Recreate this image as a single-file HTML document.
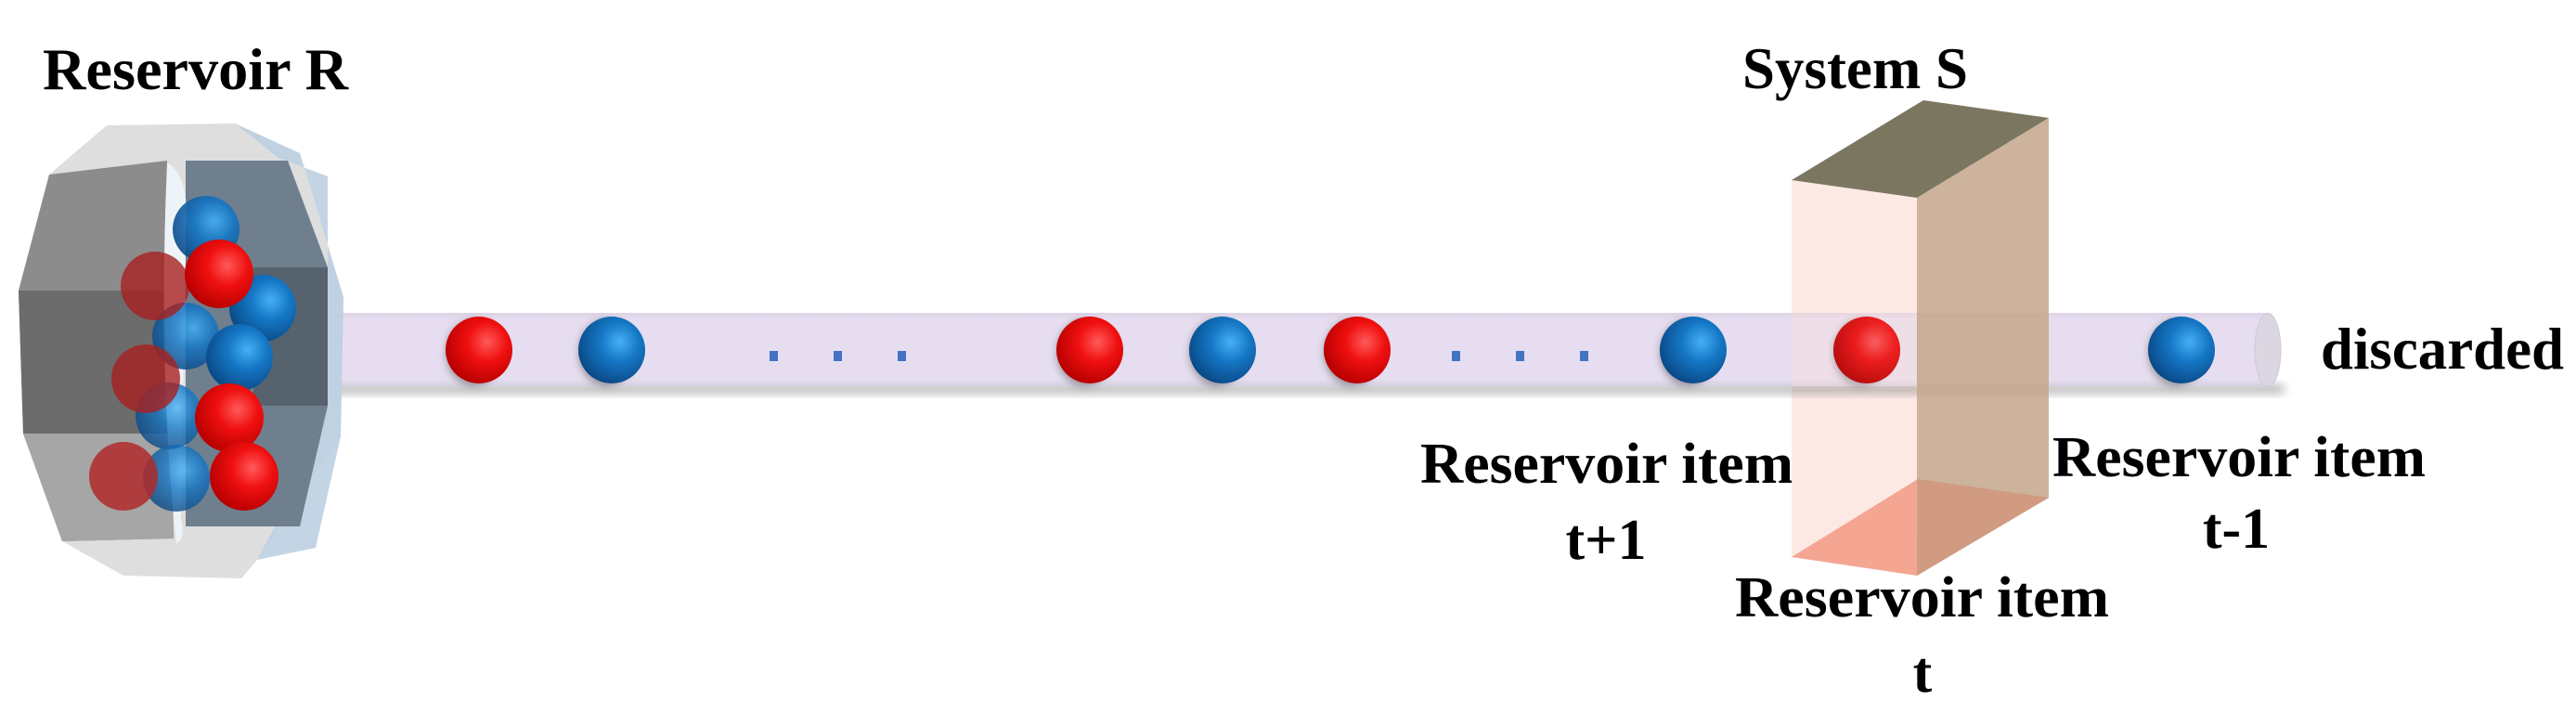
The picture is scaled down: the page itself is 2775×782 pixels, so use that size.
<!DOCTYPE html>
<html><head><meta charset="utf-8"><style>
html,body{margin:0;padding:0;background:#fff;}
svg{display:block;}
text{font-family:"Liberation Serif","Times New Roman",serif;font-weight:bold;fill:#000;}
</style></head><body>
<svg width="2775" height="782" viewBox="0 0 2775 782" xmlns="http://www.w3.org/2000/svg">
<defs>
<radialGradient id="rb" cx="0.62" cy="0.38" r="0.65">
<stop offset="0" stop-color="#ff5a5a"/><stop offset="0.45" stop-color="#f01010"/><stop offset="1" stop-color="#b80000"/>
</radialGradient>
<radialGradient id="bb" cx="0.62" cy="0.38" r="0.65">
<stop offset="0" stop-color="#45b0f5"/><stop offset="0.45" stop-color="#1577c5"/><stop offset="1" stop-color="#0a4a88"/>
</radialGradient>
<linearGradient id="tube" x1="0" y1="0" x2="0" y2="1">
<stop offset="0" stop-color="#ddd3e6"/><stop offset="0.1" stop-color="#e6def0"/><stop offset="0.9" stop-color="#e6def0"/><stop offset="1" stop-color="#d6cfdf"/>
</linearGradient>
<filter id="sh" x="-0.1" y="-0.5" width="1.2" height="2"><feGaussianBlur stdDeviation="5"/></filter>
<filter id="bs" x="-0.5" y="-0.5" width="2" height="2"><feGaussianBlur stdDeviation="4"/></filter>
</defs>

<!-- Labels -->
<text x="46" y="96" font-size="64" textLength="329" lengthAdjust="spacingAndGlyphs">Reservoir R</text>
<text x="1877" y="95" font-size="64" textLength="243" lengthAdjust="spacingAndGlyphs">System S</text>
<text x="2500" y="397" font-size="63" textLength="262" lengthAdjust="spacingAndGlyphs">discarded</text>
<text x="1530" y="520" font-size="62" textLength="402" lengthAdjust="spacingAndGlyphs">Reservoir item</text>
<text x="1730" y="602" font-size="62" text-anchor="middle">t+1</text>
<text x="2211" y="513" font-size="62" textLength="402" lengthAdjust="spacingAndGlyphs">Reservoir item</text>
<text x="2409" y="590" font-size="62" text-anchor="middle">t-1</text>
<text x="1869" y="664" font-size="62" textLength="403" lengthAdjust="spacingAndGlyphs">Reservoir item</text>
<text x="2071" y="745" font-size="62" text-anchor="middle">t</text>

<!-- System S box front face (background) -->
<polygon points="1930,194 2065,213 2065,620 1930,600" fill="#fde9e4"/>
<polygon points="1930,600 2065,620 2207,536 2066,516" fill="#f4a693"/>

<!-- Tube -->
<rect x="320" y="414" width="2140" height="10" fill="#888" opacity="0.6" filter="url(#sh)"/>
<rect x="320" y="337" width="2123" height="79" fill="url(#tube)"/>
<rect x="1930" y="337" width="135" height="79" fill="#fde0d8" opacity="0.35"/>
<ellipse cx="2443" cy="377" rx="14" ry="39.5" fill="#dcd6e2" stroke="#cfc8d8" stroke-width="1"/>

<!-- Tube balls -->
<g>
<ellipse cx="510" cy="380" rx="30" ry="36" fill="#555" opacity="0.5" filter="url(#bs)"/>
<circle cx="516" cy="377" r="36" fill="url(#rb)"/>
<ellipse cx="653" cy="380" rx="30" ry="36" fill="#555" opacity="0.5" filter="url(#bs)"/>
<circle cx="659" cy="377" r="36" fill="url(#bb)"/>
<rect x="829" y="378" width="9" height="11" fill="#4472c4"/>
<rect x="898" y="378" width="9" height="11" fill="#4472c4"/>
<rect x="967" y="378" width="9" height="11" fill="#4472c4"/>
<ellipse cx="1168" cy="380" rx="30" ry="36" fill="#555" opacity="0.5" filter="url(#bs)"/>
<circle cx="1174" cy="377" r="36" fill="url(#rb)"/>
<ellipse cx="1311" cy="380" rx="30" ry="36" fill="#555" opacity="0.5" filter="url(#bs)"/>
<circle cx="1317" cy="377" r="36" fill="url(#bb)"/>
<ellipse cx="1456" cy="380" rx="30" ry="36" fill="#555" opacity="0.5" filter="url(#bs)"/>
<circle cx="1462" cy="377" r="36" fill="url(#rb)"/>
<rect x="1564" y="378" width="9" height="11" fill="#4472c4"/>
<rect x="1633" y="378" width="9" height="11" fill="#4472c4"/>
<rect x="1702" y="378" width="9" height="11" fill="#4472c4"/>
<ellipse cx="1818" cy="380" rx="30" ry="36" fill="#555" opacity="0.5" filter="url(#bs)"/>
<circle cx="1824" cy="377" r="36" fill="url(#bb)"/>
<ellipse cx="2005" cy="380" rx="30" ry="36" fill="#555" opacity="0.4" filter="url(#bs)"/>
<circle cx="2011" cy="377" r="36" fill="url(#rb)" opacity="0.92"/>
<ellipse cx="2344" cy="380" rx="30" ry="36" fill="#555" opacity="0.5" filter="url(#bs)"/>
<circle cx="2350" cy="377" r="36" fill="url(#bb)"/>
</g>

<!-- System S box front parts -->
<polygon points="2065,213 2207,127 2207,536 2065,620" fill="#c4a68a" opacity="0.85"/>
<polygon points="2066,516 2207,536 2065,620" fill="#d09a80" opacity="0.9"/>
<polygon points="1930,194 2072,108 2207,127 2065,213" fill="#7b7660"/>

<!-- Reservoir R -->
<polygon points="115,135 253,133 323,165 370,320 367,470 277,603 260,623 133,620 67,583 25,467 20,313 53,188" fill="#d8d8d8" opacity="0.85"/>
<polygon points="253,133 323,165 370,320 367,470 340,590 277,603 300,560 353,437 353,190 300,170" fill="#bccfe2" opacity="0.9"/>
<polygon points="53,188 180,173 187,580 67,583 25,467 20,313" fill="#8c8c8c"/>
<polygon points="20,313 182,313 184,467 25,467" fill="#6c6c6c"/>
<polygon points="25,467 184,467 187,580 67,583" fill="#a6a6a6"/>
<polygon points="200,173 310,173 353,288 353,437 323,567 200,567" fill="#6f7f8e"/>
<polygon points="273,288 353,288 353,437 273,437" fill="#56636f"/>
<path d="M180,175 Q205,190 200,250 L195,560 Q200,580 190,585 Q170,400 180,175 Z" fill="#eef3f8"/>
<!-- reservoir balls -->
<g>
<circle cx="222" cy="247" r="36" fill="url(#bb)" opacity="0.9"/>
<circle cx="200" cy="362" r="36" fill="url(#bb)" opacity="0.85"/>
<circle cx="182" cy="448" r="36" fill="url(#bb)" opacity="0.8"/>
<circle cx="190" cy="515" r="36" fill="url(#bb)" opacity="0.8"/>
<circle cx="167" cy="308" r="37" fill="#a82020" opacity="0.8"/>
<circle cx="157" cy="408" r="37" fill="#a82020" opacity="0.8"/>
<circle cx="133" cy="513" r="37" fill="#b02a2a" opacity="0.85"/>
<circle cx="283" cy="332" r="36" fill="url(#bb)"/>
<circle cx="258" cy="385" r="36" fill="url(#bb)"/>
<circle cx="236" cy="295" r="37" fill="url(#rb)"/>
<circle cx="247" cy="450" r="37" fill="url(#rb)"/>
<circle cx="263" cy="513" r="37" fill="url(#rb)"/>
</g>
</svg>
</body></html>
